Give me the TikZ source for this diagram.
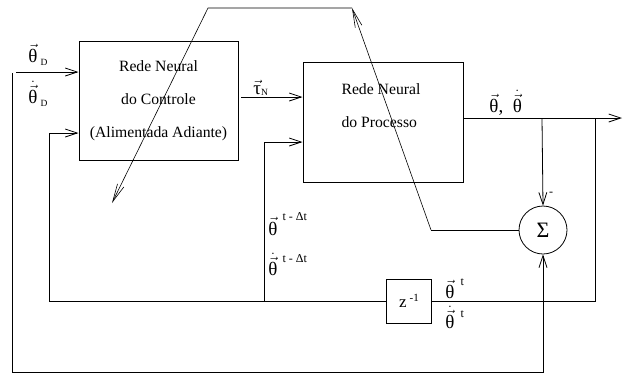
\documentclass[tikz,border=0pt]{standalone}
\usepackage{amsmath}
\usepackage{fontspec}
\setmainfont{Liberation Serif}
\usetikzlibrary{arrows.meta,positioning}

\newcommand{\vth}{$\vec{\text{θ}}$}
\newcommand{\dvth}{$\dot{\vec{\text{θ}}}$}
\newcommand{\subtxt}[2][3pt]{\raisebox{-#1}{\fontsize{9.5}{10}\selectfont #2}}
\newcommand{\suptxt}[2][13pt]{\raisebox{#1}{\fontsize{12}{12}\selectfont #2}}

\begin{document}
\begin{tikzpicture}[x=1pt,y=-1pt,line width=0.8pt,
  >={Straight Barb[length=12pt,width=8pt]},
  netbox/.style={draw,rectangle,line width=1pt,inner sep=0pt},
  boxtext/.style={font=\fontsize{15.7}{33}\selectfont,align=center},
  lbl/.style={font=\fontsize{19}{22}\selectfont,inner sep=0pt,anchor=base west},
  backarrow/.style={->,>={Straight Barb[length=18pt,width=7pt]},line width=0.6pt}]
  \useasboundingbox (0,0) rectangle (629,373);
  % blocks
  \node[netbox,minimum width=159pt,minimum height=119pt] (ctrl) at (158.5,100.5) {};
  \node[boxtext] (ctrltxt) at (ctrl) {Rede Neural\\do Controle\\(Alimentada Adiante)};
  \node[netbox,minimum width=160pt,minimum height=120pt] (proc) at (383,122) {};
  \node[boxtext,align=left] (proctxt) at (381,105.5) {Rede Neural\\do Processo};
  \node[draw,circle,minimum size=48pt,inner sep=0pt,font=\fontsize{22}{22}\selectfont] (sum) at (543,230) {Σ};
  \node[netbox,minimum width=45pt,minimum height=44pt,font=\fontsize{17}{20}\selectfont] (delay) at (409,301)
    {z\,\raisebox{6pt}{\fontsize{11}{11}\selectfont -1}};
  % corners and junctions
  \coordinate (in1) at (16,72);
  \coordinate (in2) at (49,133);
  \coordinate (tau) at (241,97);
  \coordinate (in4) at (264,142);
  \coordinate (fb0) at (12,73);
  \coordinate (fb1) at (12,372);
  \coordinate (jl) at (49,301);
  \coordinate (jm) at (264,301);
  \coordinate (jo) at (595,118);
  \coordinate (js) at (542,118);
  \coordinate (out) at (622,118);
  \coordinate (bp1) at (431,230);
  \coordinate (bp2) at (352,8);
  \coordinate (bp3) at (208,8);
  \coordinate (bp4) at (112,203);
  % connectors
  \draw[->] (in1) -- (in1 -| ctrl.west);
  \draw[->] (fb0) -- (fb1) -| (sum.south);
  \draw[->] (jl) -- (in2) -- (in2 -| ctrl.west);
  \draw (jl) -- (delay.west);
  \draw (delay.east) -| (jo);
  \draw[->] (jm) -- (in4) -- (in4 -| proc.west);
  \draw[->] (tau) -- (tau -| proc.west);
  \draw[->] (proc.east |- out) -- (out);
  \draw[->] (js) -- (sum.north);
  \draw (sum.west) -- (bp1);
  \draw[backarrow] (bp1) -- (bp2);
  \draw[backarrow] (bp2) -- (bp3) -- (bp4);
  % labels
  \node[lbl] (thD) at (28,62) {\vth\,\subtxt{D}};
  \node[lbl] (thdD) at (28,103) {\dvth\,\subtxt{D}};
  \node[lbl] (tauN) at (253,94) {$\vec{\text{τ}}$\subtxt[1pt]{N}};
  \node[lbl] (thout) at (489,112) {\vth,\ \ \dvth};
  \node[lbl] (thold) at (268,235) {\vth\hspace{5pt}\suptxt[15pt]{t - Δt}};
  \node[lbl] (thdold) at (268,275) {\dvth\hspace{5pt}\suptxt{t - Δt}};
  \node[lbl] (thnew) at (445,298) {\vth\hspace{6pt}\suptxt{t}};
  \node[lbl] (thdnew) at (445,328) {\dvth\hspace{6pt}\suptxt[11pt]{t}};
  \node[font=\fontsize{12}{12}\selectfont,inner sep=0pt] (minus) at (551,194) {-};
\end{tikzpicture}
\end{document}
